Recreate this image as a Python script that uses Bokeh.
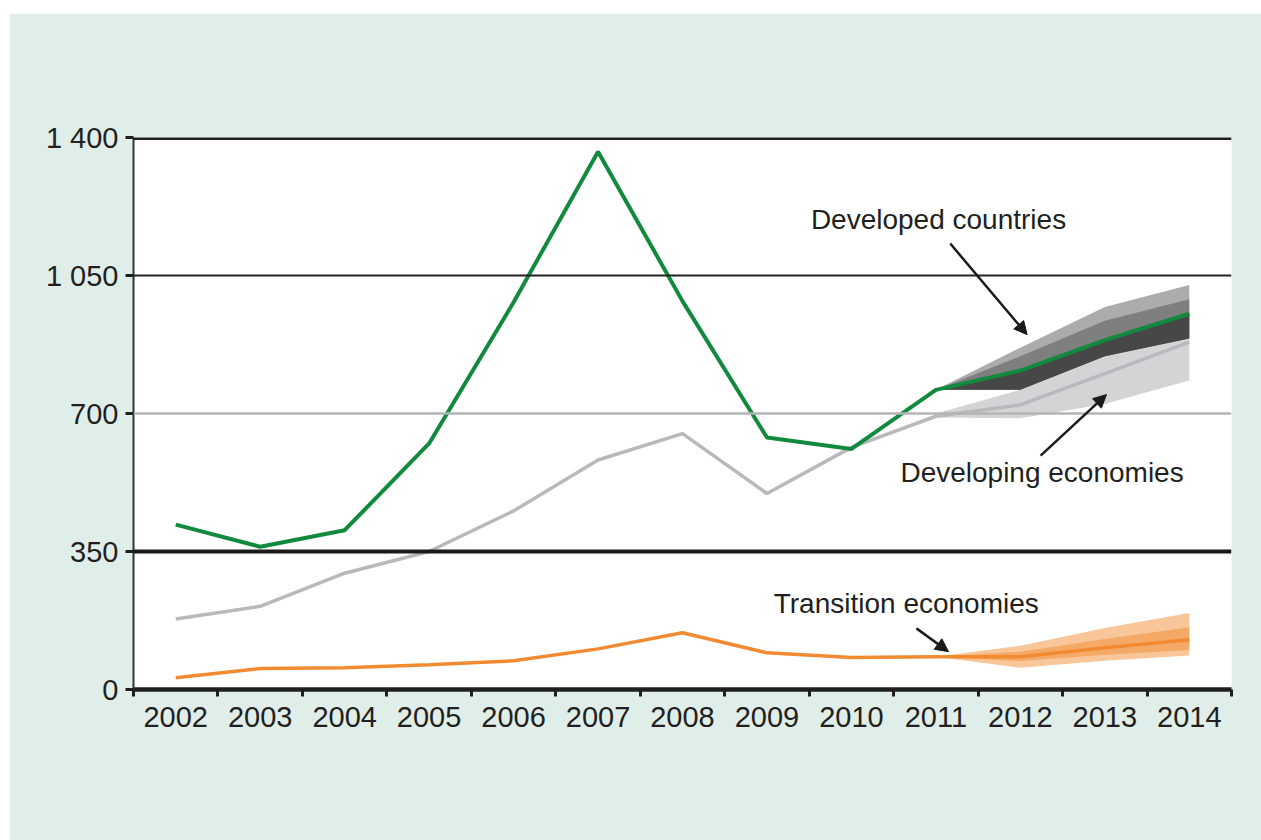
from bokeh.plotting import figure
from bokeh.models import (FixedTicker, Span, Arrow, NormalHead, Spacer, Label)
from bokeh.layouts import column, row
from bokeh.embed import file_html
from bokeh.resources import INLINE

# ---------------- data ----------------
years = [2002, 2003, 2004, 2005, 2006, 2007, 2008, 2009, 2010, 2011, 2012, 2013, 2014]
developed = [418, 362, 404, 624, 982, 1364, 985, 639, 610, 760, 809, 886, 953]
developing = [179, 211, 295, 350, 453, 582, 649, 497, 614, 693, 722, 801, 881]
transition = [30, 53, 55, 63, 73, 103, 144, 93, 81, 83, 83, 106, 126]

proj_years = [2011, 2012, 2013, 2014]
dev_hi = [760, 867, 970, 1026]
dev_hi_in = [760, 845, 935, 990]
dev_lo = [760, 760, 845, 890]
dev_mid = [760, 809, 886, 953]
deving_hi = [700, 760, 845, 890]
deving_lo = [690, 688, 724, 784]
trans_hi = [83, 111, 156, 194]
trans_lo = [83, 55, 73, 86]
trans_hi_in = [83, 96, 128, 158]
trans_lo_in = [83, 72, 88, 100]

y_ticks = [0, 350, 700, 1050, 1400]
y_labels = {0: "0", 350: "350", 700: "700", 1050: "1 050", 1400: "1 400"}

FONT = "Liberation Sans"
TXT = "#231f20"
MINT = "#dfeee8"
GREEN = "#128a3e"
GRAY = "#b9b9bd"
ORANGE = "#f28a32"

p = figure(width=1252, height=827, output_backend="svg", toolbar_location=None,
           x_range=(2001.5, 2014.5), y_range=(0, 1400),
           min_border_left=124, min_border_right=30, min_border_top=124, min_border_bottom=151)
p.border_fill_color = MINT
p.background_fill_color = "white"
p.outline_line_color = None
p.grid.visible = False

# gridlines
p.add_layout(Span(location=1400, dimension="width", line_color="#1f1f1f", line_width=5))
p.add_layout(Span(location=1050, dimension="width", line_color="#222222", line_width=2))
p.add_layout(Span(location=700, dimension="width", line_color="#b4b4b4", line_width=2.5))
p.add_layout(Span(location=350, dimension="width", line_color="#1a1a1a", line_width=4))

# bands
p.varea(x=proj_years, y1=deving_lo, y2=deving_hi, fill_color="#cfcfd2", fill_alpha=0.9)
p.varea(x=proj_years, y1=dev_lo, y2=dev_hi, fill_color="#a8a8a8", fill_alpha=0.95)
p.varea(x=proj_years, y1=dev_lo, y2=dev_hi_in, fill_color="#7c7c7c", fill_alpha=0.95)
p.varea(x=proj_years, y1=dev_lo, y2=dev_mid, fill_color="#444444", fill_alpha=0.95)
p.varea(x=proj_years, y1=trans_lo, y2=trans_hi, fill_color="#f8c08f", fill_alpha=0.9)
p.varea(x=proj_years, y1=trans_lo_in, y2=trans_hi_in, fill_color="#f4a562", fill_alpha=0.9)

# lines
p.line(years, developing, line_color=GRAY, line_width=3.5)
p.line(years, transition, line_color=ORANGE, line_width=3.5)
p.line(years, developed, line_color=GREEN, line_width=4)

# axes
xa = p.xaxis[0]
xa.ticker = FixedTicker(ticks=years, minor_ticks=[y - 0.5 for y in years] + [2014.5])
xa.major_tick_out = 0
xa.major_tick_in = 0
xa.minor_tick_out = 7
xa.minor_tick_in = 0
xa.minor_tick_line_width = 3
xa.minor_tick_line_color = "#1f1f1f"
xa.axis_line_width = 4.5
xa.axis_line_color = "#1f1f1f"
xa.major_label_text_font = FONT
xa.major_label_text_font_size = "29px"
xa.major_label_text_color = TXT
xa.major_label_standoff = 10

ya = p.yaxis[0]
ya.ticker = FixedTicker(ticks=y_ticks)
ya.major_label_overrides = y_labels
ya.major_tick_out = 8
ya.major_tick_in = 0
ya.major_tick_line_width = 3
ya.major_tick_line_color = "#1f1f1f"
ya.minor_tick_out = 0
ya.minor_tick_in = 0
ya.axis_line_width = 2
ya.axis_line_color = "#333333"
ya.major_label_text_font = FONT
ya.major_label_text_font_size = "29px"
ya.major_label_text_color = TXT
ya.major_label_standoff = 7

# annotations
def lab(x, y, t):
    p.add_layout(Label(x=x, y=y, text=t, text_font=FONT, text_font_size="28px",
                       text_color=TXT, text_baseline="middle", text_align="left"))

lab(2009.52, 1192, "Developed countries")
lab(2010.58, 550, "Developing economies")
lab(2009.08, 218, "Transition economies")

def arr(x0, y0, x1, y1):
    p.add_layout(Arrow(end=NormalHead(size=13, fill_color="#1a1a1a", line_color="#1a1a1a"),
                       x_start=x0, y_start=y0, x_end=x1, y_end=y1,
                       line_color="#1a1a1a", line_width=2.5))

arr(2011.17, 1131, 2012.08, 900)
arr(2012.24, 593, 2013.02, 748)
arr(2010.77, 155, 2011.15, 96)

layout = column(Spacer(width=1252, height=13), row(Spacer(width=9, height=827), p))
open("out.html", "w").write(file_html(layout, INLINE))
